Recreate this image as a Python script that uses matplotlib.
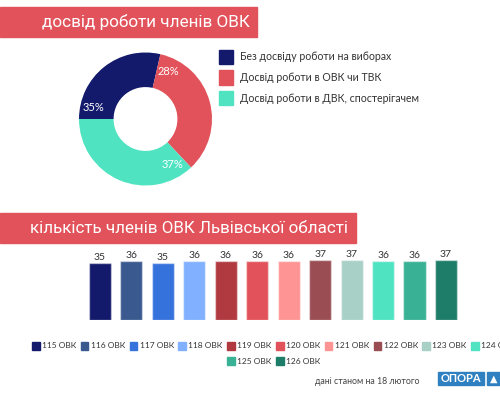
import matplotlib.pyplot as plt
from matplotlib.patches import Rectangle
import numpy as np

# donut data
exp_labels = ["Без досвіду роботи на виборах", "Досвід роботи в ОВК чи ТВК",
              "Досвід роботи в ДВК, спостерігачем"]
exp_shares = [28.6, 34.4, 37.0]
exp_pct = ["35%", "28%", "37%"]
exp_colors = ["#131a6b", "#e2525a", "#50e3c2"]

# bar data
ovk = ["115 ОВК", "116 ОВК", "117 ОВК", "118 ОВК", "119 ОВК", "120 ОВК",
       "121 ОВК", "122 ОВК", "123 ОВК", "124 ОВК", "125 ОВК", "126 ОВК"]
members = [35, 36, 35, 36, 36, 36, 36, 37, 37, 36, 36, 37]
ovk_colors = ["#131a6b", "#3a5a8f", "#3572dc", "#80b0ff", "#b03a40", "#e2525a",
              "#ff9494", "#9a4e54", "#a8d0c6", "#50e3c2", "#39b194", "#1e7d68"]

W, H = 500, 400
fig = plt.figure(figsize=(5, 4), dpi=100)
fig.patch.set_facecolor("white")

body_font = ["Lato", "DejaVu Sans"]
title_font = ["Roboto", "DejaVu Sans"]


def px(x, y):
    return x / W, 1 - y / H


def frect(x0, y0, x1, y1, color):
    fig.patches.append(Rectangle((x0 / W, 1 - y1 / H), (x1 - x0) / W, (y1 - y0) / H,
                                 transform=fig.transFigure, color=color, zorder=1))


def fit_title(x0, x1, y, s, size):
    t = fig.text(*px(x0, y), s, color="white", fontsize=size, family=title_font,
                 ha="left", va="center")
    r = fig.canvas.get_renderer()
    w = t.get_window_extent(r).width
    t.set_fontsize(size * (x1 - x0) / w)
    return t


# title banners
frect(0, 7, 257, 37, "#e2525a")
fit_title(42, 250, 22.5, "досвід роботи членів ОВК", 17)
frect(0, 213, 356, 243, "#e2525a")
fit_title(30, 349, 228.5, "кількість членів ОВК Львівської області", 16.5)

# donut
ax1 = fig.add_axes([79 / W, 1 - 185.5 / H, 133 / W, 133 / H])
ax1.pie(exp_shares, colors=exp_colors, startangle=180, counterclock=False,
        wedgeprops=dict(width=0.52, linewidth=0))
ax1.set_xlim(-1, 1)
ax1.set_ylim(-1, 1)
starts = 180 - 3.6 * np.concatenate([[0], np.cumsum(exp_shares)[:-1]])
for a, t in zip(starts - 13, exp_pct):
    r = 0.8
    ax1.text(r * np.cos(np.radians(a)), r * np.sin(np.radians(a)), t, color="white",
             fontsize=8, family=body_font, ha="center", va="center")

for i, (lab, c) in enumerate(zip(exp_labels, exp_colors)):
    y = 57 + i * 20.5
    frect(219, y - 7, 233, y + 7, c)
    fig.text(*px(240, y), lab, fontsize=7.6, color="#333333", family=body_font,
             ha="left", va="center")

# bars
pitch = 31.45
ax2 = fig.add_axes([(100 - pitch / 2) / W, 1 - 320 / H, 12 * pitch / W, 40 * 1.635 / H])
x = np.arange(len(members))
ax2.bar(x, members, width=0.7, color=ovk_colors, edgecolor=(1, 1, 1, 0.45), linewidth=1)
for xi, v in zip(x, members):
    ax2.text(xi, v + 0.6, str(v), ha="center", va="bottom", fontsize=7.5,
             color="#333333", family=body_font)
ax2.set_xlim(-0.5, len(members) - 0.5)
ax2.set_ylim(0, 40)
ax2.axis("off")

# bar legend, 10 per row, rows centred
lp = 48.8
for i, (lab, c) in enumerate(zip(ovk, ovk_colors)):
    row, col = divmod(i, 10)
    n = min(10, len(ovk) - row * 10)
    x0 = 270 - n * lp / 2 + 6 + col * lp
    y = 346 + row * 15
    frect(x0, y - 3.7, x0 + 7.5, y + 3.7, c)
    fig.text(*px(x0 + 10, y), lab, fontsize=6.0, color="#333333", family=body_font,
             ha="left", va="center")

# footer
fig.text(*px(367, 381), "дані станом на 18 лютого", fontsize=6.3, color="#444444",
         family=body_font, ha="center", va="center")
frect(438, 372, 484, 385, "#2f80c0")
fig.text(*px(461, 378.7), "ОПОРА", fontsize=8, color="white", weight="bold",
         family=body_font, ha="center", va="center")
frect(487, 372, 502, 385, "#2f80c0")
fig.text(*px(494, 378.5), "▲", fontsize=7, color="white", family=["DejaVu Sans"],
         ha="center", va="center")

fig.savefig("out.png", dpi=100)
